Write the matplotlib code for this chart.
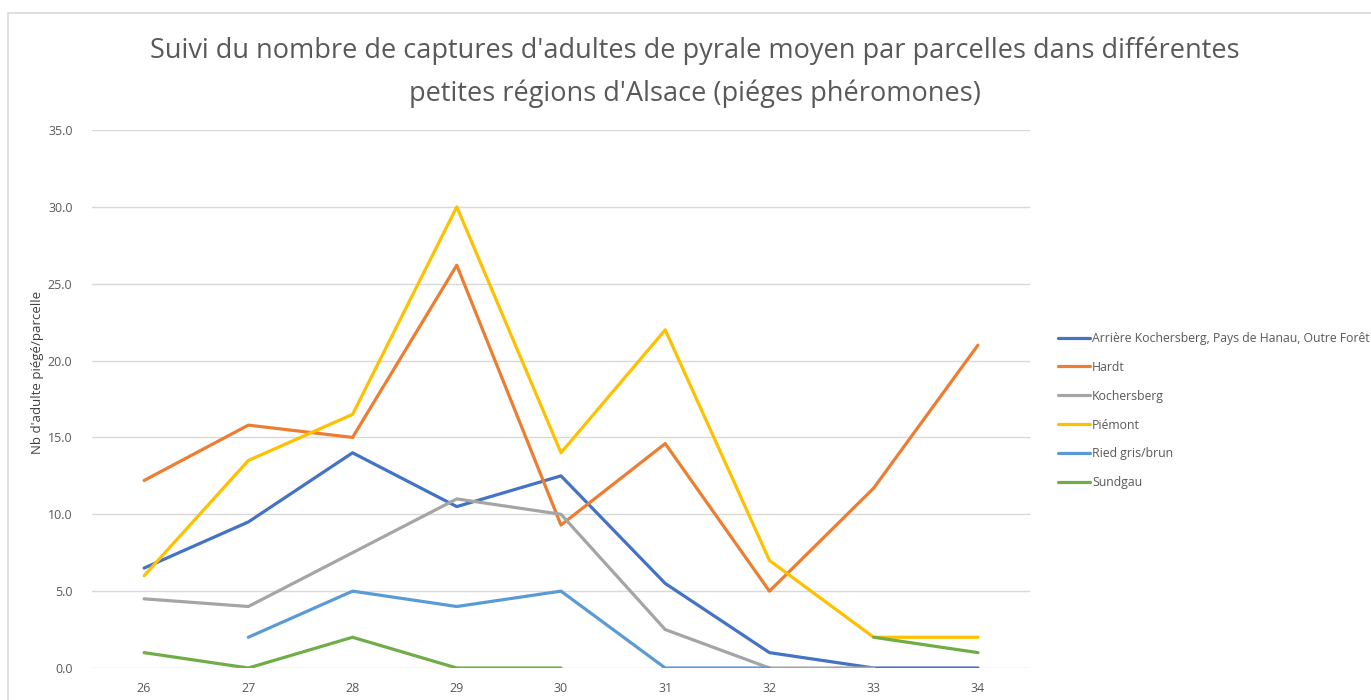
import matplotlib
matplotlib.use("Agg")
import matplotlib.pyplot as plt
import numpy as np
from matplotlib.patches import Rectangle

weeks = ["26", "27", "28", "29", "30", "31", "32", "33", "34"]
arriere = [6.5, 9.5, 14.0, 10.5, 12.5, 5.5, 1.0, 0.0, 0.0]
hardt = [12.2, 15.8, 15.0, 26.2, 9.3, 14.6, 5.0, 11.7, 21.0]
kochersberg = [4.5, 4.0, 7.5, 11.0, 10.0, 2.5, 0.0, 0.0, None]
piemont = [6.0, 13.5, 16.5, 30.0, 14.0, 22.0, 7.0, 2.0, 2.0]
ried = [None, 2.0, 5.0, 4.0, 5.0, 0.0, 0.0, None, None]
sundgau = [1.0, 0.0, 2.0, 0.0, 0.0, None, None, 2.0, 1.0]

series = [
    ("Arrière Kochersberg, Pays de Hanau, Outre Forêt", arriere, "#4472C4"),
    ("Hardt", hardt, "#ED7D31"),
    ("Kochersberg", kochersberg, "#A5A5A5"),
    ("Piémont", piemont, "#FFC000"),
    ("Ried gris/brun", ried, "#5B9BD5"),
    ("Sundgau", sundgau, "#70AD47"),
]

plt.rcParams['font.family'] = ['Open Sans', 'DejaVu Sans']

W, H = 1371, 700
fig = plt.figure(figsize=(W / 100, H / 100), dpi=100)
fig.patch.set_facecolor("white")

# chart border
fig.add_artist(Rectangle((8 / W, -0.1), 1.2, (H - 13) / H + 0.1, transform=fig.transFigure,
                         fill=False, edgecolor="#d9d9d9", linewidth=1.2))

ax = fig.add_axes([92 / W, 32 / H, (1030 - 92) / W, (668 - 130) / H])
x = np.arange(len(weeks))
for name, vals, col in series:
    y = np.array([np.nan if v is None else v for v in vals], dtype=float)
    ax.plot(x, y, color=col, lw=2.3, label=name, solid_capstyle="round", solid_joinstyle="round")

ax.set_xlim(-0.5, len(weeks) - 0.5)
ax.set_ylim(0, 35)
ax.set_yticks(np.arange(0, 35.1, 5))
ax.set_yticklabels([f"{v:.1f}" for v in np.arange(0, 35.1, 5)])
ax.set_xticks(x)
ax.set_xticklabels(weeks)
ax.grid(axis="y", color="#d9d9d9", lw=1)
ax.set_axisbelow(True)
for s in ax.spines.values():
    s.set_visible(False)
ax.tick_params(axis="both", length=0, colors="#595959", labelsize=9)
ax.tick_params(axis="y", pad=14)
ax.tick_params(axis="x", pad=10)

fig.text(38 / W, 1 - 372 / H, "Nb d'adulte piégé/parcelle", rotation=90,
         ha="center", va="center", fontsize=9.5, color="#404040")

fig.text(695 / W, 1 - 51 / H, "Suivi du nombre de captures d'adultes de pyrale moyen par parcelles dans différentes",
         ha="center", va="center", fontsize=19.5, color="#595959")
fig.text(695 / W, 1 - 94 / H, "petites régions d'Alsace (piéges phéromones)",
         ha="center", va="center", fontsize=19.5, color="#595959")

leg = fig.legend(loc="upper left", bbox_to_anchor=(1053 / W, 1 - 327 / H), frameon=False,
                 fontsize=8.8, labelcolor="#595959", handlelength=2.6, handletextpad=0.2,
                 labelspacing=1.3, borderaxespad=0)

fig.savefig("out.png", dpi=100)
